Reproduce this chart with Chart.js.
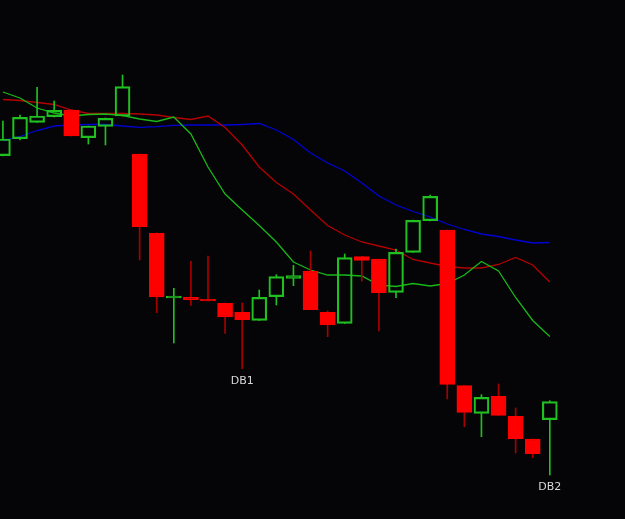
<!DOCTYPE html>
<html>
<head>
<meta charset="utf-8">
<script src="https://cdn.jsdelivr.net/npm/chart.js@4.4.1/dist/chart.umd.min.js"></script>
<style>
    body { margin: 0; background: #050507; }
    #wrap { width: 625px; height: 519px; }
</style>
</head>
<body>
<div id="wrap"><canvas id="myChart"></canvas></div>
<script>
// velas (precio)
const opens  = [363.3, 380.3, 396.7, 402.3, 409, 381.3, 392.7, 403, 365, 285.7, 221, 221.7, 219.7, 215.7, 206.7, 198.7, 222.3, 240.7, 248, 206.7, 195.7, 262.3, 260, 226.7, 266.7, 298.3, 289, 133.3, 105.7, 122.7, 102.7, 80, 99.3];
const highs  = [398, 404, 431.7, 418, 409, 393, 401, 444, 365, 286, 230.7, 257.7, 263, 216, 216, 229, 244.3, 253.7, 268, 208, 265, 262.5, 260, 270, 299, 324, 289, 133.5, 124.3, 135, 111, 80, 118.3];
const lows   = [363, 379, 396.5, 402, 383, 375, 374, 403, 259, 206.3, 176, 213.7, 218, 185.7, 150.3, 198.5, 214, 233.3, 209.3, 182.3, 195.5, 238, 188, 221.3, 266.5, 298, 120, 92.3, 82.3, 103.5, 66, 61.3, 44];
const closes = [380, 401.7, 403, 408.7, 383, 393, 400.7, 432.3, 292.3, 222, 223, 219.3, 218, 202, 199.3, 221.7, 242.3, 243.3, 209.3, 194, 261.3, 258.7, 226.3, 266.7, 298.7, 322.7, 134.7, 106.7, 121.7, 103.7, 80.3, 65.3, 117.3];

// medias moviles
const maFast = [427, 421, 411, 406, 403, 404.5, 405, 403.5, 400, 397.5, 402, 385, 352, 325, 309, 293.5, 277, 257, 249, 244, 244, 243, 234, 232.5, 235.5, 233, 235.5, 244, 257.5, 248, 221.5, 198.5, 182.5];
const maMid  = [419.5, 418.5, 416.5, 414.5, 409, 405.5, 405.5, 405.5, 405, 404, 401.5, 399.5, 403, 391.5, 374, 352, 336.5, 325, 309, 293.5, 284, 277, 273, 269, 259.5, 256, 252.5, 251, 251, 254.5, 261.5, 254, 237];
const maSlow = [378, 382.5, 388.5, 393, 394, 394.5, 394.5, 393, 391.7, 392.3, 393.7, 394, 394, 394, 394.5, 395.5, 389, 379.5, 366, 356, 348, 336, 323, 314, 307.5, 302, 295, 289.5, 285, 282.5, 279, 276, 276.5];

// etiquetas de los dobles suelos
const markTexts = ['DB1', 'DB2'];
const markIdx = [14, 32];

const GREEN = '#20c020';
const RED = '#ff0000';
const DARKRED = '#a80000';

let bodies = [], upWicks = [], downWicks = [], bodyColors = [], bodyBorders = [], wickColors = [];
for (let i = 0; i < opens.length; i++) {
    let up = closes[i] >= opens[i];
    let top = Math.max(opens[i], closes[i]);
    let bot = Math.min(opens[i], closes[i]);
    bodies.push({ x: i, y: [opens[i], closes[i]] });
    upWicks.push({ x: i, y: [top, highs[i]] });
    downWicks.push({ x: i, y: [lows[i], bot] });
    bodyColors.push(up ? 'rgba(0,0,0,0)' : RED);
    bodyBorders.push(up ? GREEN : RED);
    wickColors.push(up ? GREEN : DARKRED);
}

function lineData(arr) {
    return arr.map((v, i) => ({ x: i, y: v }));
}

const background = {
    id: 'background',
    beforeDraw(chart) {
        const ctx = chart.ctx;
        ctx.save();
        ctx.fillStyle = '#050507';
        ctx.fillRect(0, 0, chart.width, chart.height);
        ctx.restore();
    }
};

const marks = {
    id: 'marks',
    afterDatasetsDraw(chart) {
        const ctx = chart.ctx;
        const xs = chart.scales.x, ys = chart.scales.y;
        ctx.save();
        ctx.font = '11px "DejaVu Sans", sans-serif';
        ctx.fillStyle = '#d8d8d8';
        ctx.textAlign = 'center';
        ctx.textBaseline = 'middle';
        for (let k = 0; k < markTexts.length; k++) {
            let i = markIdx[k];
            ctx.fillText(markTexts[k], xs.getPixelForValue(i), ys.getPixelForValue(lows[i]) + 12);
        }
        ctx.restore();
    }
};

let myChart = new Chart(document.getElementById('myChart').getContext('2d'), {
    data: {
        datasets: [
            { type: 'line', data: lineData(maFast), borderColor: '#18b818', borderWidth: 1.3, pointRadius: 0, order: 3 },
            { type: 'line', data: lineData(maMid), borderColor: '#b40000', borderWidth: 1.3, pointRadius: 0, order: 3 },
            { type: 'line', data: lineData(maSlow), borderColor: '#0000d4', borderWidth: 1.3, pointRadius: 0, order: 3 },
            { type: 'bar', data: upWicks, backgroundColor: wickColors, barThickness: 1, grouped: false, order: 2 },
            { type: 'bar', data: downWicks, backgroundColor: wickColors, barThickness: 1, grouped: false, order: 2 },
            { type: 'bar', data: bodies, backgroundColor: bodyColors, borderColor: bodyBorders, borderWidth: 1.5, borderSkipped: false, barThickness: 15, grouped: false, order: 1 }
        ]
    },
    options: {
        responsive: true,
        maintainAspectRatio: false,
        animation: false,
        layout: { padding: 0 },
        plugins: {
            legend: { display: false },
            tooltip: { enabled: false }
        },
        scales: {
            x: { type: 'linear', min: -0.17, max: 36.4, offset: false, display: false },
            y: { min: 0, max: 519, display: false }
        }
    },
    plugins: [background, marks]
});
</script>
</body>
</html>
